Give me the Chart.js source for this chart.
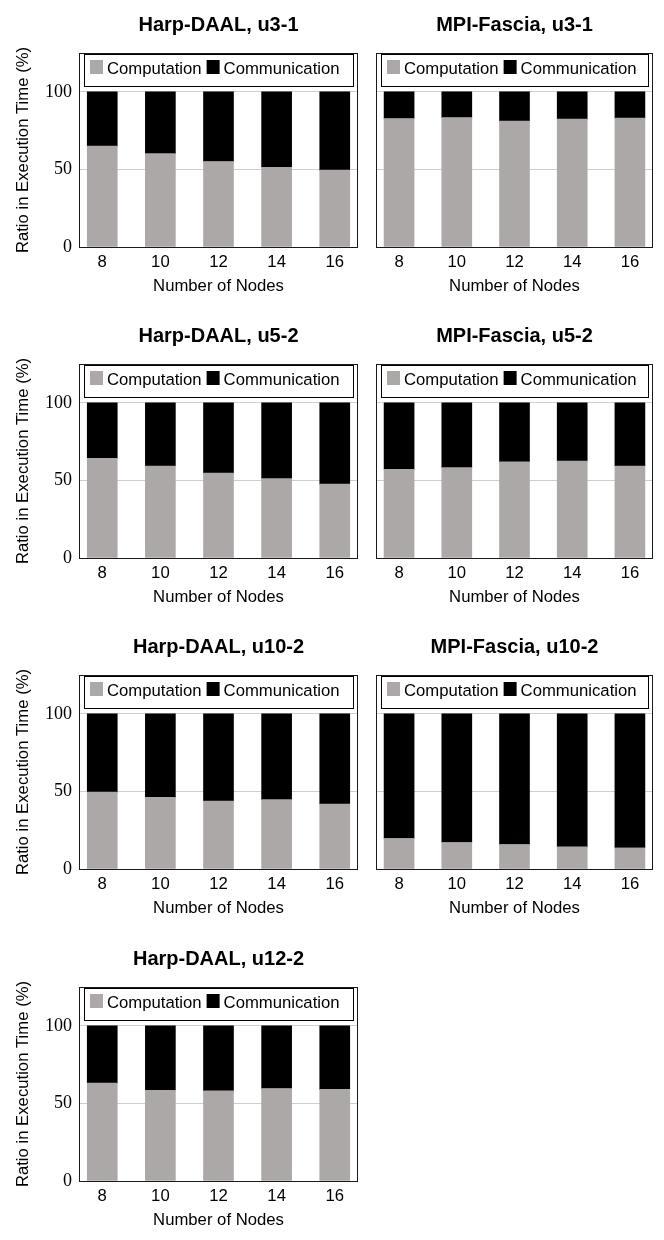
<!DOCTYPE html>
<html>
<head>
<meta charset="utf-8">
<script src="https://cdn.jsdelivr.net/npm/chart.js@4.4.1/dist/chart.umd.min.js"></script>
<style>
  html, body { margin: 0; padding: 0; background: #fff; }
  #page { position: relative; width: 664px; height: 1240px; }
  canvas { position: absolute; }
</style>
</head>
<body>
<div id="page"></div>
<script>
// x categories and y ticks
const nodes = [8, 10, 12, 14, 16];
const yTicks = [0, 50, 100];
const seriesNames = ['Computation', 'Communication'];

// ratio in execution time (%)
const harpU31Comp = [65.0, 60.2, 55.1, 51.4, 49.5];
const harpU31Comm = [35.0, 39.8, 44.9, 48.6, 50.5];
const mpiU31Comp = [82.8, 83.4, 81.1, 82.4, 83.0];
const mpiU31Comm = [17.2, 16.6, 18.9, 17.6, 17.0];
const harpU52Comp = [64.2, 59.3, 54.7, 51.1, 47.6];
const harpU52Comm = [35.8, 40.7, 45.3, 48.9, 52.4];
const mpiU52Comp = [57.1, 58.2, 61.9, 62.5, 59.3];
const mpiU52Comm = [42.9, 41.8, 38.1, 37.5, 40.7];
const harpU102Comp = [49.5, 46.2, 43.8, 44.7, 41.9];
const harpU102Comm = [50.5, 53.8, 56.2, 55.3, 58.1];
const mpiU102Comp = [19.7, 17.1, 15.8, 14.3, 13.6];
const mpiU102Comm = [80.3, 82.9, 84.2, 85.7, 86.4];
const harpU122Comp = [63.1, 58.5, 58.1, 59.6, 59.0];
const harpU122Comm = [36.9, 41.5, 41.9, 40.4, 41.0];

const panels = [
  { title: 'Harp-DAAL, u3-1', comp: harpU31Comp, comm: harpU31Comm, col: 0, row: 0 },
  { title: 'MPI-Fascia, u3-1', comp: mpiU31Comp, comm: mpiU31Comm, col: 1, row: 0 },
  { title: 'Harp-DAAL, u5-2', comp: harpU52Comp, comm: harpU52Comm, col: 0, row: 1 },
  { title: 'MPI-Fascia, u5-2', comp: mpiU52Comp, comm: mpiU52Comm, col: 1, row: 1 },
  { title: 'Harp-DAAL, u10-2', comp: harpU102Comp, comm: harpU102Comm, col: 0, row: 2 },
  { title: 'MPI-Fascia, u10-2', comp: mpiU102Comp, comm: mpiU102Comm, col: 1, row: 2 },
  { title: 'Harp-DAAL, u12-2', comp: harpU122Comp, comm: harpU122Comm, col: 0, row: 3 }
];

const rowTops = [0, 311, 622, 934];
const SANS = '"Liberation Sans", Arial, Helvetica, sans-serif';
const SERIF = '"Liberation Serif", "Times New Roman", serif';
const GRAY = '#aca8a7';
const BLACK = '#000000';

// title, in-plot legend and frame, drawn around the chart area
const panelDecor = {
  id: 'panelDecor',
  afterDatasetsDraw(chart, args, opts) {
    const ctx = chart.ctx;
    const ca = chart.chartArea;
    ctx.save();
    // legend box
    const bx = ca.left + 5, by = ca.top + 1, bw = ca.right - ca.left - 10, bh = 32;
    ctx.fillStyle = '#fff';
    ctx.fillRect(bx, by, bw, bh);
    ctx.strokeStyle = '#000';
    ctx.lineWidth = 1;
    ctx.strokeRect(Math.round(bx) + 0.5, Math.round(by) + 0.5, bw, bh);
    ctx.font = '16.7px ' + SANS;
    ctx.textBaseline = 'alphabetic';
    ctx.textAlign = 'left';
    let x = bx + 6;
    chart.data.datasets.forEach(ds => {
      ctx.fillStyle = ds.backgroundColor;
      ctx.fillRect(x, by + 6, 13, 14);
      ctx.fillStyle = '#000';
      ctx.fillText(ds.label, x + 17, by + 20);
      x += 17 + ctx.measureText(ds.label).width + 5;
    });
    // frame
    ctx.strokeStyle = '#1a1a1a';
    ctx.strokeRect(Math.round(ca.left) + 0.5, Math.round(ca.top) + 0.5,
      Math.round(ca.right - ca.left) - 1, Math.round(ca.bottom - ca.top));
    // title
    ctx.fillStyle = '#000';
    ctx.font = 'bold 20px ' + SANS;
    ctx.textAlign = 'center';
    ctx.fillText(opts.text, (ca.left + ca.right) / 2, ca.top - 22);
    ctx.restore();
  }
};

const page = document.getElementById('page');

panels.forEach(p => {
  const left = p.col === 0;
  const canvas = document.createElement('canvas');
  const w = left ? 365 : 299;
  canvas.width = w;
  canvas.height = 305;
  canvas.style.left = (left ? 0 : 365) + 'px';
  canvas.style.top = rowTops[p.row] + 'px';
  page.appendChild(canvas);

  new Chart(canvas, {
    type: 'bar',
    data: {
      datasets: [
        { label: seriesNames[0], data: nodes.map((n, i) => ({ x: n, y: p.comp[i] })), backgroundColor: GRAY, barThickness: 30 },
        { label: seriesNames[1], data: nodes.map((n, i) => ({ x: n, y: p.comm[i] })), backgroundColor: BLACK, barThickness: 30 }
      ]
    },
    options: {
      responsive: false,
      animation: false,
      events: [],
      layout: { padding: { top: 53, left: 0, right: left ? 7 : 11, bottom: 8 } },
      plugins: {
        legend: { display: false },
        title: { display: false },
        tooltip: { enabled: false },
        panelDecor: { text: p.title }
      },
      scales: {
        x: {
          type: 'linear',
          stacked: true,
          offset: false,
          min: 7.2,
          max: 16.8,
          afterBuildTicks: s => { s.ticks = nodes.map(v => ({ value: v })); },
          afterFit: s => { s.height = 50; },
          grid: { display: false, drawTicks: false },
          border: { display: false },
          ticks: { color: '#000', padding: 5, font: { family: SANS, size: 16.7 }, callback: v => String(v) },
          title: { display: true, text: 'Number of Nodes', color: '#000', padding: { top: 0, bottom: 1 }, font: { family: SANS, size: 16.7 } }
        },
        y: {
          stacked: true,
          min: 0,
          max: 125,
          afterBuildTicks: s => { s.ticks = yTicks.map(v => ({ value: v })); },
          afterFit: s => { s.width = left ? 79 : 11; },
          grid: { color: '#cfcfcf', lineWidth: 1, drawTicks: false },
          border: { display: false },
          ticks: { display: left, color: '#000', padding: 7, font: { family: SERIF, size: 18 } },
          title: { display: left, text: 'Ratio in Execution Time (%)', color: '#000', padding: { top: 13, bottom: 0 }, font: { family: SANS, size: 16.7 } }
        }
      }
    },
    plugins: [panelDecor]
  });
});
</script>
</body>
</html>
